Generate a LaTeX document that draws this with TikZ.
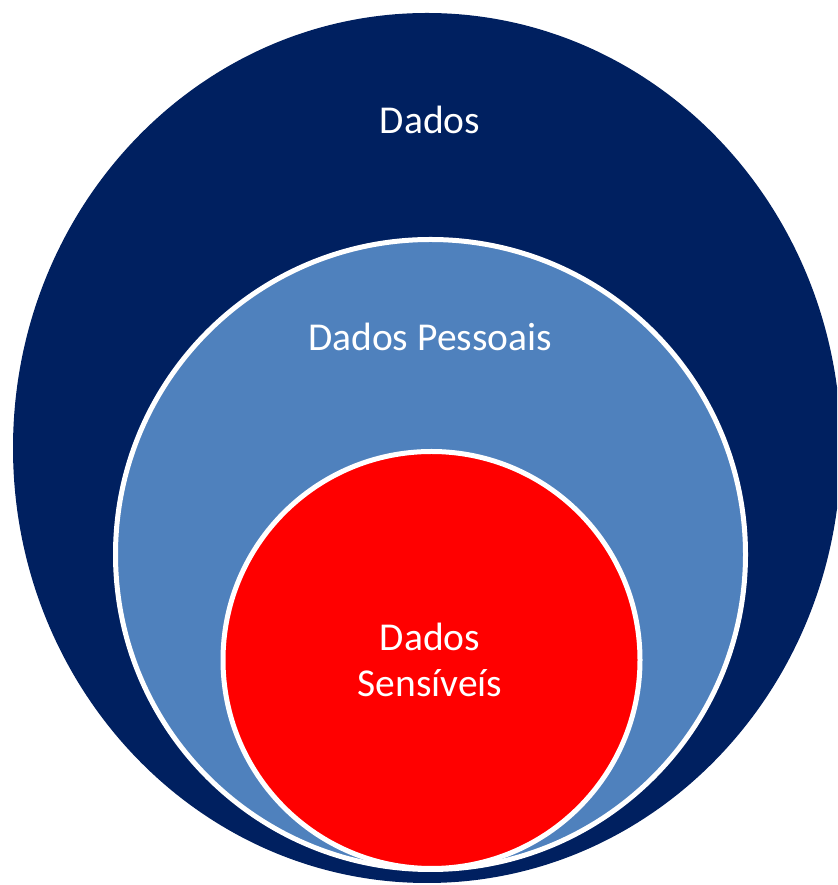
\documentclass[tikz,border=0pt]{standalone}
\usepackage{fontspec}
\setmainfont{Carlito}
\definecolor{navy}{HTML}{002060}
\definecolor{lightblue}{HTML}{4F81BD}
\definecolor{brightred}{HTML}{FF0000}
\begin{document}
\begin{tikzpicture}[x=1pt,y=1pt,
  lbl/.style={text=white,font=\fontsize{39.5}{46}\selectfont,align=center,inner sep=0pt}]
\useasboundingbox (0,0) rectangle (837,885);
\fill[white] (0,0) rectangle (837,885);
\begin{scope}
\clip (0,0) rectangle (837,885);
\fill[navy] (427,437) ellipse [x radius=414, y radius=435];
\end{scope}
\filldraw[fill=lightblue,draw=white,line width=5pt] (430.5,330.5) circle [radius=315];
\filldraw[fill=brightred,draw=white,line width=5pt] (431.5,225) circle [radius=208.5];
\node[lbl] (dados) at (430,765) {Dados};
\node[lbl] (pessoais) at (430,548) {Dados Pessoais};
\node[lbl] (sensiveis) at (430,225) {Dados\\Sensíveís};
\end{tikzpicture}
\end{document}
